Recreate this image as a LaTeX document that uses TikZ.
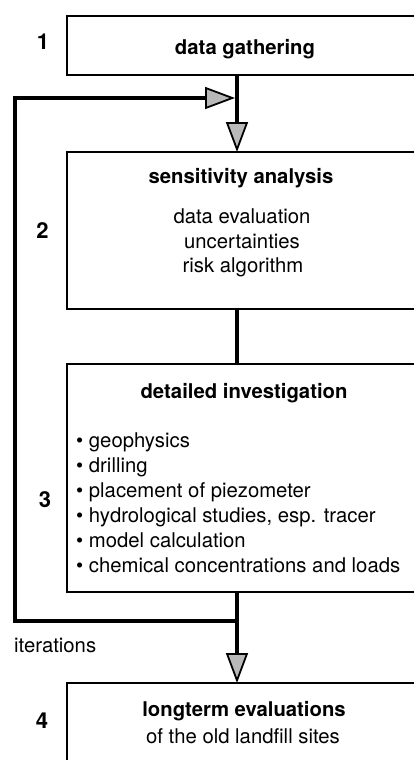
\documentclass[tikz,border=0pt]{standalone}
\usepackage{fontspec}
\setmainfont{TeX Gyre Heros}
\usetikzlibrary{arrows.meta}
\begin{document}
\begin{tikzpicture}[x=1pt,y=-1pt,
  box/.style={draw=black, line width=1.2pt, rectangle, inner sep=0pt, outer sep=0pt, anchor=north west},
  txt/.style={font=\fontsize{20.3}{25}\selectfont, inner sep=0pt, anchor=base},
  ttl/.style={txt, font=\fontsize{20.3}{25}\selectfont\bfseries},
  numlabel/.style={txt, font=\fontsize{22}{25}\selectfont\bfseries},
  item/.style={txt, anchor=base west},
  flow/.style={line width=4pt},
  arrowflow/.style={-{Triangle[length=30pt,width=22pt,fill=gray!55,line width=1.8pt]}}
]
\clip (0,0) rectangle (414,760);
% boxes
\node[box, minimum width=380pt, minimum height=59pt]  (b1) at (67,16)  {};
\node[box, minimum width=380pt, minimum height=157pt] (b2) at (67,152) {};
\node[box, minimum width=380pt, minimum height=228pt] (b3) at (67,364) {};
\node[box, minimum width=380pt, minimum height=120pt] (b4) at (67,683) {};
% helper coordinates
\coordinate (vx) at (237,0);
\coordinate (j1) at (235,98);
\coordinate (j2) at (237,621);
\coordinate (c1) at (15,98);
\coordinate (c2) at (15,621);
% connectors
\draw[flow, arrowflow] (b1.south -| vx) -- (b2.north -| vx);
\draw[flow] (b2.south -| vx) -- (b3.north -| vx);
\draw[flow, arrowflow] (b3.south -| vx) -- (b4.north -| vx);
\draw[flow, arrowflow] (j2) -- (c2) -- (c1) -- (j1);
% numbers
\node[numlabel] (n1) at (43,50)  {1};
\node[numlabel] (n2) at (42.5,238) {2};
\node[numlabel] (n3) at (45,507) {3};
\node[numlabel] (n4) at (42,728) {4};
% box 1
\node[ttl] (t1) at (245,55) {data gathering};
% box 2
\node[ttl] (t2) at (241,183) {sensitivity analysis};
\node[txt] (l2a) at (242,223) {data evaluation};
\node[txt] (l2b) at (242,248) {uncertainties};
\node[txt] (l2c) at (243,272) {risk algorithm};
% box 3
\node[ttl] (t3) at (244,398) {detailed investigation};
\node[item] (i1) at (76,447) {\textbullet\ geophysics};
\node[item] (i2) at (76,472) {\textbullet\ drilling};
\node[item] (i3) at (76,497) {\textbullet\ placement of piezometer};
\node[item] (i4) at (76,522) {\textbullet\ hydrological studies, esp. tracer};
\node[item] (i5) at (76,547) {\textbullet\ model calculation};
\node[item] (i6) at (76,572) {\textbullet\ chemical concentrations and loads};
% iterations
\node[item] (it) at (14,652) {iterations};
% box 4
\node[ttl] (t4) at (244,716) {longterm evaluations};
\node[txt] (l4) at (243,743) {of the old landfill sites};
\end{tikzpicture}
\end{document}
